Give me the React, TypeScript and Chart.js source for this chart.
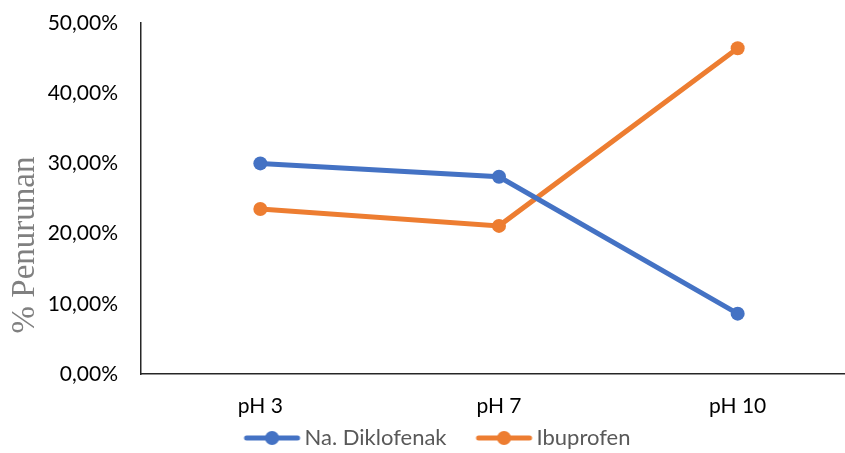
import React, { useEffect, useRef } from "react";
import { Chart, registerables } from "chart.js";

Chart.register(...registerables);

const categories = ["pH 3", "pH 7", "pH 10"];
const diklofenak = [0.300, 0.281, 0.086];
const ibuprofen = [0.235, 0.211, 0.464];
const seriesNames = ["Na. Diklofenak", "Ibuprofen"];
const seriesColors = ["#4472C4", "#ED7D31"];
const yTitle = "% Penurunan";

const FONT = "Lato, 'Noto Sans', sans-serif";
const TITLE_FONT = "33px 'Liberation Serif', 'DejaVu Serif', serif";

// legend marker: box is 74 wide, image (130 wide) centred on box centre (37),
// so image x = box x + 28; line drawn from box x 25 to 80.
function makeLegendImage(color: string): HTMLCanvasElement {
  const c = document.createElement("canvas");
  c.width = 130;
  c.height = 16;
  const ctx = c.getContext("2d")!;
  const off = 28;
  ctx.strokeStyle = color;
  ctx.lineWidth = 5;
  ctx.lineCap = "round";
  ctx.beginPath();
  ctx.moveTo(off + 27, 8);
  ctx.lineTo(off + 78, 8);
  ctx.stroke();
  ctx.fillStyle = color;
  ctx.beginPath();
  ctx.arc(off + 52.5, 8, 7, 0, Math.PI * 2);
  ctx.fill();
  return c;
}

const yTitlePlugin = {
  id: "yTitlePlugin",
  afterDraw(chart: any) {
    const ctx = chart.ctx;
    ctx.save();
    ctx.translate(25, 245);
    ctx.rotate(-Math.PI / 2);
    ctx.font = TITLE_FONT;
    ctx.fillStyle = "#808080";
    ctx.textAlign = "center";
    ctx.textBaseline = "middle";
    ctx.fillText(yTitle, 0, 0);
    ctx.restore();
  },
};

export default function App() {
  const ref = useRef<HTMLCanvasElement | null>(null);
  useEffect(() => {
    if (!ref.current) return;
    const imgs = seriesColors.map(makeLegendImage);
    const chart = new Chart(ref.current, {
      type: "line",
      data: {
        labels: categories,
        datasets: [diklofenak, ibuprofen].map((d, i) => ({
          label: seriesNames[i],
          data: d,
          borderColor: seriesColors[i],
          backgroundColor: seriesColors[i],
          borderWidth: 5,
          pointRadius: 7,
          pointHoverRadius: 7,
          pointBorderWidth: 0,
          pointStyle: "circle",
          tension: 0,
        })),
      },
      plugins: [yTitlePlugin],
      options: {
        animation: false,
        responsive: false,
        devicePixelRatio: 1,
        layout: { padding: { left: -7, right: 13, top: 0, bottom: -6 } },
        scales: {
          x: {
            offset: true,
            grid: { display: false, drawTicks: false, offset: true },
            border: { display: true, color: "#262626", width: 1.5 },
            ticks: {
              color: "#000",
              font: { family: FONT, size: 21 },
              padding: 20,
            },
            afterFit: (s: any) => {
              s.height = 48;
            },
          },
          y: {
            min: 0,
            max: 0.5,
            grid: { display: false, drawTicks: false },
            border: { display: true, color: "#262626", width: 1.5 },
            ticks: {
              stepSize: 0.1,
              color: "#000",
              font: { family: FONT, size: 21, lineHeight: "0px" },
              padding: 23,
              callback: (v: any) => (Number(v) * 100).toFixed(2).replace(".", ",") + "%",
            },
            afterFit: (s: any) => {
              s.width = 148;
            },
          },
        },
        plugins: {
          legend: {
            position: "bottom",
            labels: {
              usePointStyle: true,
              pointStyleWidth: 74,
              boxHeight: 16,
              padding: 5,
              color: "#595959",
              font: { family: FONT, size: 22 },
              generateLabels: (c: any) =>
                c.data.datasets.map((ds: any, i: number) => ({
                  text: ds.label,
                  fillStyle: ds.borderColor,
                  strokeStyle: ds.borderColor,
                  lineWidth: 0,
                  pointStyle: imgs[i],
                  hidden: false,
                  datasetIndex: i,
                  fontColor: "#595959",
                })),
            },
          },
          tooltip: { enabled: false },
        },
      },
    });
    return () => chart.destroy();
  }, []);
  return (
    <div
      style={{
        position: "absolute",
        left: 0,
        top: 0,
        width: 845,
        height: 453,
        overflow: "hidden",
        background: "#fff",
      }}
    >
      <canvas ref={ref} width={870} height={453} style={{ width: 870, height: 453, display: "block" }} />
    </div>
  );
}
